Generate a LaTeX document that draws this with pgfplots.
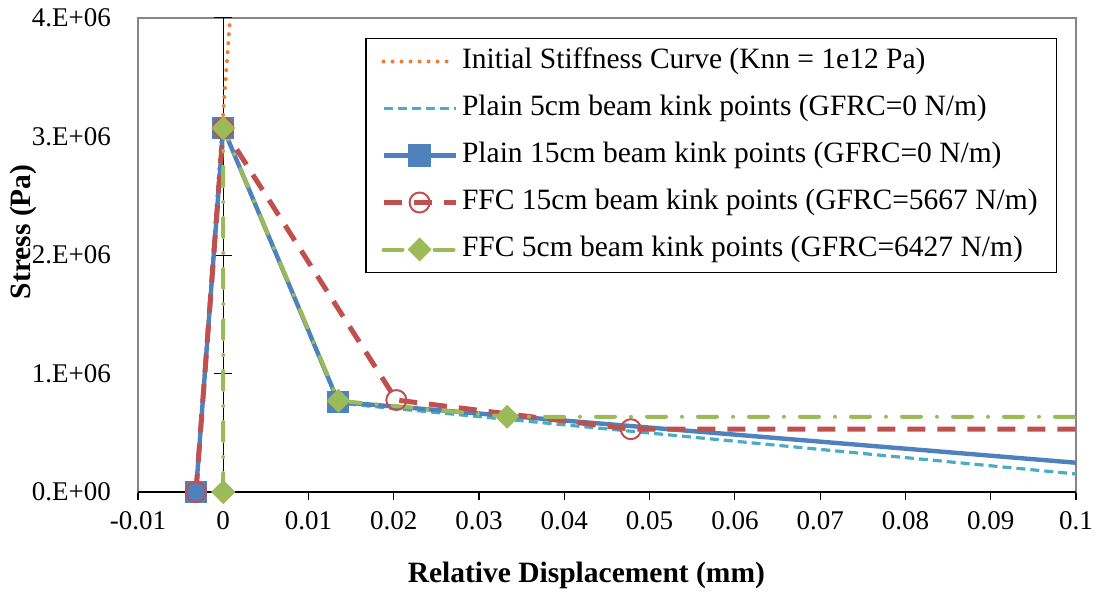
\documentclass[border=0pt]{standalone}
\usepackage{fontspec}
\setmainfont{Liberation Serif}
\usepackage{pgfplots}
\pgfplotsset{compat=1.18}
\definecolor{cOrange}{HTML}{ED7D31}
\definecolor{cCyan}{HTML}{4BACC6}
\definecolor{cBlue}{HTML}{4F81BD}
\definecolor{cRed}{HTML}{C0504D}
\definecolor{cGreen}{HTML}{9BBB59}
\definecolor{cBorder}{HTML}{868686}
\begin{document}
\begin{tikzpicture}
\begin{axis}[
  scale only axis,
  width=469pt, height=237pt,
  xmin=-0.01, xmax=0.1, ymin=0, ymax=4e6,
  axis line style={cBorder, line width=0.75pt},
  scaled x ticks=false, scaled y ticks=false,
  xtick={-0.01,0,0.01,0.02,0.03,0.04,0.05,0.06,0.07,0.08,0.09,0.1},
  xticklabels={-0.01,0,0.01,0.02,0.03,0.04,0.05,0.06,0.07,0.08,0.09,0.1},
  ytick={0,1e6,2e6,3e6,4e6},
  yticklabels={0.E+00,1.E+06,2.E+06,3.E+06,4.E+06},
  xtick pos=bottom, tick align=outside, major tick length=4pt,
  xtick style={black, line width=0.6pt},
  ytick style={draw=none},
  ticklabel style={font=\fontsize{13.5}{16}\selectfont},
  yticklabel style={xshift=-6pt},
  xticklabel style={yshift=-2pt},
  xlabel={Relative Displacement (mm)},
  ylabel={Stress (Pa)},
  xlabel style={at={(axis description cs:0.478,-0.175)}, anchor=center, font=\fontsize{14.75}{17}\selectfont\bfseries},
  ylabel style={at={(axis description cs:-0.1226,0.549)}, anchor=center, font=\fontsize{14.75}{17}\selectfont\bfseries},
  legend style={at={(rel axis cs:0.980,0.958)}, anchor=north east, draw=black, line width=0.6pt, fill=white,
    font=\fontsize{14.75}{17}\selectfont, row sep=10.5pt, inner xsep=7.5pt, inner ysep=5pt,
    nodes={inner ysep=0pt, inner xsep=2pt, text height=10pt, text depth=3pt}},
  legend cell align=left,
  legend image code/.code={\draw[#1,mark=none] (0pt,0pt) -- (36pt,0pt); \path[#1,draw=none] plot coordinates {(18pt,0pt)};},
]
% axis lines at y=0 and x=0
\draw[black, line width=0.75pt] (axis cs:-0.01,0) -- (axis cs:0.1,0);
\draw[black, line width=0.5pt] (axis cs:0,0) -- (axis cs:0,4e6);
\pgfplotsinvokeforeach{1e6,2e6,3e6,4e6}{\draw[black, line width=0.5pt] ([xshift=-4.5pt]axis cs:0,#1) -- ([xshift=4.5pt]axis cs:0,#1);}

\addplot[cOrange, line width=2pt, line cap=round, dash pattern=on 0pt off 4.5pt, mark=none]
  coordinates {(-0.0032,0) (0.0008,4e6)};
\addlegendentry{Initial Stiffness Curve (Knn = 1e12 Pa)}

\addplot[cCyan, line width=1.6pt, dash pattern=on 4.5pt off 2.5pt, mark=none]
  coordinates {(-0.0032,0) (0,3.07e6) (0.0135,0.75e6) (0.1,0.152e6)};
\addlegendentry{Plain 5cm beam kink points (GFRC=0 N/m)}

\addplot[cBlue, line width=2.2pt, mark=square*, mark size=5.3pt, mark options={solid, fill=cBlue, draw=cBlue, line width=0.5pt}, mark indices={1,2,3}]
  coordinates {(-0.0032,0) (0,3.07e6) (0.0135,0.76e6) (0.1,0.247e6)};
\addlegendentry{Plain 15cm beam kink points (GFRC=0 N/m)}

\addplot[cRed, line width=2.5pt, dash pattern=on 9pt off 6pt, mark=o, mark size=5pt, mark options={solid, draw=cRed, line width=1pt}, mark indices={1,2,3,4}]
  coordinates {(-0.0032,0) (0,3.07e6) (0.0203,0.776e6) (0.0478,0.53e6) (0.1,0.53e6)};
\addlegendentry{FFC 15cm beam kink points (GFRC=5667 N/m)}

\addplot[cGreen, line width=2pt, line cap=round, dash pattern=on 9.5pt off 8pt on 0pt off 8pt, mark=square*, mark size=4pt, mark options={solid, rotate=45, fill=cGreen, draw=cGreen, line width=0.5pt}, mark indices={1,2,3,4}]
  coordinates {(0,0) (0,3.07e6) (0.0135,0.77e6) (0.0333,0.635e6) (0.1,0.635e6)};
\addlegendentry{FFC 5cm beam kink points (GFRC=6427 N/m)}

\coordinate (bbsw) at (rel axis cs:-0.1471,-0.2110);
\coordinate (bbne) at (rel axis cs:1.0192,1.0380);
\end{axis}
\pgfresetboundingbox
\path[use as bounding box] (bbsw) rectangle (bbne);
\end{tikzpicture}
\end{document}
